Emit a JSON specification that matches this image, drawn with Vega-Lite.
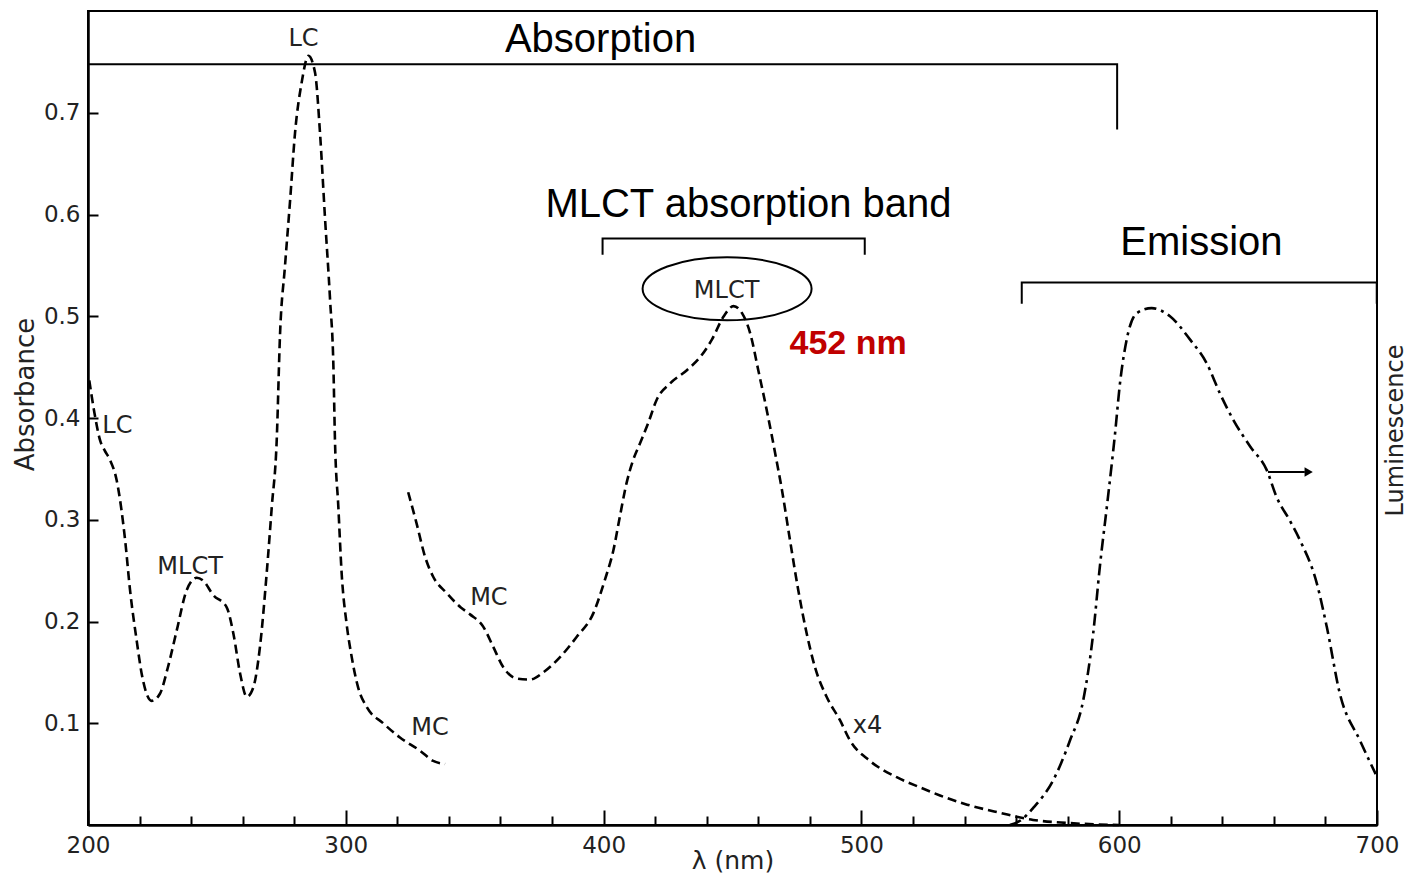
{
  "$schema": "https://vega.github.io/schema/vega-lite/v6.json",
  "width": 1289,
  "height": 814,
  "autosize": "none",
  "padding": {"left": 88, "top": 11, "right": 31, "bottom": 50},
  "background": "white",
  "config": {
    "view": {"stroke": "black", "strokeWidth": 2},
    "font": "DejaVu Sans",
    "axis": {"grid": false, "labelColor": "#222", "titleColor": "#222", "titleFontWeight": "normal", "domainColor": "black", "tickColor": "black"}
  },
  "datasets": {
    "absorption": [
      {"seg": 1, "nm": 200.5, "A": 0.437}, {"seg": 1, "nm": 202.5, "A": 0.405}, {"seg": 1, "nm": 204.7, "A": 0.378},
      {"seg": 1, "nm": 206.5, "A": 0.368}, {"seg": 1, "nm": 208.5, "A": 0.359}, {"seg": 1, "nm": 211.1, "A": 0.339},
      {"seg": 1, "nm": 214.4, "A": 0.28}, {"seg": 1, "nm": 216.3, "A": 0.231}, {"seg": 1, "nm": 218.9, "A": 0.181},
      {"seg": 1, "nm": 220.8, "A": 0.149}, {"seg": 1, "nm": 224.7, "A": 0.122}, {"seg": 1, "nm": 227.9, "A": 0.129},
      {"seg": 1, "nm": 231.0, "A": 0.155}, {"seg": 1, "nm": 234.4, "A": 0.191}, {"seg": 1, "nm": 238.3, "A": 0.231},
      {"seg": 1, "nm": 242.2, "A": 0.243}, {"seg": 1, "nm": 244.7, "A": 0.24}, {"seg": 1, "nm": 248.6, "A": 0.226},
      {"seg": 1, "nm": 253.8, "A": 0.214}, {"seg": 1, "nm": 256.4, "A": 0.188}, {"seg": 1, "nm": 259.0, "A": 0.149},
      {"seg": 1, "nm": 261.6, "A": 0.126}, {"seg": 1, "nm": 264.1, "A": 0.135}, {"seg": 1, "nm": 266.7, "A": 0.175},
      {"seg": 1, "nm": 269.3, "A": 0.247}, {"seg": 1, "nm": 271.3, "A": 0.313}, {"seg": 1, "nm": 273.2, "A": 0.378},
      {"seg": 1, "nm": 274.5, "A": 0.483}, {"seg": 1, "nm": 276.4, "A": 0.549}, {"seg": 1, "nm": 278.4, "A": 0.614},
      {"seg": 1, "nm": 280.3, "A": 0.68}, {"seg": 1, "nm": 282.9, "A": 0.73}, {"seg": 1, "nm": 285.5, "A": 0.756},
      {"seg": 1, "nm": 288.1, "A": 0.739}, {"seg": 1, "nm": 290.0, "A": 0.68}, {"seg": 1, "nm": 291.9, "A": 0.598},
      {"seg": 1, "nm": 293.9, "A": 0.516}, {"seg": 1, "nm": 295.2, "A": 0.45}, {"seg": 1, "nm": 295.8, "A": 0.378},
      {"seg": 1, "nm": 297.1, "A": 0.313}, {"seg": 1, "nm": 298.4, "A": 0.247}, {"seg": 1, "nm": 300.3, "A": 0.198},
      {"seg": 1, "nm": 302.3, "A": 0.165}, {"seg": 1, "nm": 304.8, "A": 0.135}, {"seg": 1, "nm": 308.1, "A": 0.116},
      {"seg": 1, "nm": 314.5, "A": 0.1}, {"seg": 1, "nm": 321.0, "A": 0.086}, {"seg": 1, "nm": 328.8, "A": 0.073},
      {"seg": 1, "nm": 333.9, "A": 0.063}, {"seg": 1, "nm": 338.5, "A": 0.06},
      {"seg": 2, "nm": 324.2, "A": 0.327}, {"seg": 2, "nm": 327.4, "A": 0.297}, {"seg": 2, "nm": 330.7, "A": 0.264},
      {"seg": 2, "nm": 333.9, "A": 0.244}, {"seg": 2, "nm": 339.1, "A": 0.228}, {"seg": 2, "nm": 344.5, "A": 0.214},
      {"seg": 2, "nm": 348.2, "A": 0.207}, {"seg": 2, "nm": 353.3, "A": 0.195}, {"seg": 2, "nm": 357.2, "A": 0.175},
      {"seg": 2, "nm": 361.1, "A": 0.155}, {"seg": 2, "nm": 366.3, "A": 0.144}, {"seg": 2, "nm": 371.5, "A": 0.143},
      {"seg": 2, "nm": 376.6, "A": 0.15}, {"seg": 2, "nm": 383.1, "A": 0.165}, {"seg": 2, "nm": 389.6, "A": 0.185},
      {"seg": 2, "nm": 396.0, "A": 0.208}, {"seg": 2, "nm": 400.5, "A": 0.241}, {"seg": 2, "nm": 403.8, "A": 0.27},
      {"seg": 2, "nm": 406.3, "A": 0.303}, {"seg": 2, "nm": 408.9, "A": 0.336}, {"seg": 2, "nm": 411.5, "A": 0.359},
      {"seg": 2, "nm": 414.1, "A": 0.375}, {"seg": 2, "nm": 417.3, "A": 0.395}, {"seg": 2, "nm": 420.6, "A": 0.418},
      {"seg": 2, "nm": 425.8, "A": 0.434}, {"seg": 2, "nm": 432.3, "A": 0.447}, {"seg": 2, "nm": 437.5, "A": 0.46},
      {"seg": 2, "nm": 442.0, "A": 0.477}, {"seg": 2, "nm": 446.6, "A": 0.5}, {"seg": 2, "nm": 450.4, "A": 0.51},
      {"seg": 2, "nm": 453.7, "A": 0.503}, {"seg": 2, "nm": 456.9, "A": 0.483}, {"seg": 2, "nm": 460.0, "A": 0.447},
      {"seg": 2, "nm": 463.5, "A": 0.405}, {"seg": 2, "nm": 466.8, "A": 0.362}, {"seg": 2, "nm": 469.2, "A": 0.329},
      {"seg": 2, "nm": 472.3, "A": 0.28}, {"seg": 2, "nm": 475.5, "A": 0.231}, {"seg": 2, "nm": 478.8, "A": 0.188},
      {"seg": 2, "nm": 482.0, "A": 0.155}, {"seg": 2, "nm": 486.5, "A": 0.126}, {"seg": 2, "nm": 491.7, "A": 0.103},
      {"seg": 2, "nm": 495.6, "A": 0.083}, {"seg": 2, "nm": 503.3, "A": 0.063}, {"seg": 2, "nm": 513.7, "A": 0.047},
      {"seg": 2, "nm": 522.7, "A": 0.037}, {"seg": 2, "nm": 530.5, "A": 0.029}, {"seg": 2, "nm": 541.0, "A": 0.02},
      {"seg": 2, "nm": 553.8, "A": 0.012}, {"seg": 2, "nm": 566.6, "A": 0.005}, {"seg": 2, "nm": 580.0, "A": 0.002},
      {"seg": 2, "nm": 600.0, "A": 0.0}
    ],
    "emission": [
      {"nm": 557.6, "L": 0.0}, {"nm": 562.0, "L": 0.005}, {"nm": 566.7, "L": 0.017}, {"nm": 574.4, "L": 0.044},
      {"nm": 580.9, "L": 0.083}, {"nm": 586.0, "L": 0.122}, {"nm": 589.9, "L": 0.188}, {"nm": 592.5, "L": 0.254},
      {"nm": 595.5, "L": 0.319}, {"nm": 598.4, "L": 0.385}, {"nm": 600.3, "L": 0.434}, {"nm": 602.9, "L": 0.477},
      {"nm": 606.8, "L": 0.503}, {"nm": 612.6, "L": 0.508}, {"nm": 619.7, "L": 0.5}, {"nm": 627.5, "L": 0.477},
      {"nm": 633.9, "L": 0.454}, {"nm": 639.1, "L": 0.424}, {"nm": 644.3, "L": 0.398}, {"nm": 650.8, "L": 0.372},
      {"nm": 657.2, "L": 0.349}, {"nm": 661.1, "L": 0.322}, {"nm": 666.0, "L": 0.3}, {"nm": 670.1, "L": 0.28},
      {"nm": 676.6, "L": 0.238}, {"nm": 680.5, "L": 0.195}, {"nm": 685.6, "L": 0.129}, {"nm": 693.4, "L": 0.083},
      {"nm": 699.5, "L": 0.05}
    ],
    "brackets": [
      {"id": "absorption", "ord": 1, "nm": 200.0, "A": 0.685}, {"id": "absorption", "ord": 2, "nm": 200.0, "A": 0.7476},
      {"id": "absorption", "ord": 3, "nm": 599.2, "A": 0.7476}, {"id": "absorption", "ord": 4, "nm": 599.2, "A": 0.6835},
      {"id": "band", "ord": 1, "nm": 399.6, "A": 0.5605}, {"id": "band", "ord": 2, "nm": 399.6, "A": 0.5763},
      {"id": "band", "ord": 3, "nm": 501.3, "A": 0.5763}, {"id": "band", "ord": 4, "nm": 501.3, "A": 0.5605},
      {"id": "emission", "ord": 1, "nm": 562.2, "A": 0.5123}, {"id": "emission", "ord": 2, "nm": 562.2, "A": 0.5332},
      {"id": "emission", "ord": 3, "nm": 699.9, "A": 0.5332}, {"id": "emission", "ord": 4, "nm": 699.9, "A": 0.5123}
    ],
    "headings": [
      {"text": "Absorption", "nm": 398.8, "A": 0.76},
      {"text": "MLCT absorption band", "nm": 456.2, "A": 0.598},
      {"text": "Emission", "nm": 631.9, "A": 0.5605}
    ],
    "bandLabels": [
      {"text": "LC", "nm": 283.6, "A": 0.7656},
      {"text": "LC", "nm": 211.4, "A": 0.385},
      {"text": "MLCT", "nm": 239.6, "A": 0.247},
      {"text": "MC", "nm": 355.5, "A": 0.216},
      {"text": "MC", "nm": 332.7, "A": 0.088},
      {"text": "x4", "nm": 502.4, "A": 0.09},
      {"text": "MLCT", "nm": 447.7, "A": 0.518}
    ],
    "peak": [{"text": "452 nm", "nm": 472.1, "A": 0.463}],
    "ellipse": [{"nm": 447.9, "A": 0.527}],
    "arrow": [{"nm": 657.7, "nm2": 672.0, "A": 0.347, "tip": 673.5}]
  },
  "encoding": {
    "x": {
      "field": "nm",
      "type": "quantitative",
      "scale": {"domain": [200, 700], "nice": false, "zero": false},
      "axis": {
        "title": "λ (nm)",
        "values": [200, 220, 240, 260, 280, 300, 320, 340, 360, 380, 400, 420, 440, 460, 480, 500, 520, 540, 560, 580, 600, 620, 640, 660, 680, 700],
        "labelExpr": "datum.value % 100 === 0 ? datum.label : ''",
        "labelFontSize": 23,
        "labelPadding": 24,
        "labelFlush": false,
        "domainWidth": 2.5,
        "tickWidth": 2,
        "tickSize": {"condition": {"test": "datum.value % 100 === 0", "value": -15}, "value": -9},
        "titleFontSize": 25,
        "titleBaseline": "top",
        "titleY": 23
      }
    }
  },
  "layer": [
    {
      "encoding": {
        "y": {
          "field": "A",
          "type": "quantitative",
          "scale": {"domain": [0, 0.8], "nice": false},
          "axis": {
            "title": "Absorbance",
            "values": [0.1, 0.2, 0.3, 0.4, 0.5, 0.6, 0.7],
            "format": ".1f",
            "labelFontSize": 23,
            "labelPadding": 18,
            "domainWidth": 2.5,
            "tickWidth": 2,
            "tickSize": -10,
            "titleFontSize": 26,
            "titleAngle": 270,
            "titleAlign": "center",
            "titleBaseline": "middle",
            "titleX": -63,
            "titleY": 383
          }
        }
      },
      "layer": [
        {
          "data": {"name": "absorption"},
          "mark": {"type": "line", "interpolate": "monotone", "color": "black", "strokeWidth": 2.6, "strokeDash": [9, 5]},
          "encoding": {"detail": {"field": "seg"}, "order": {"field": "nm", "type": "quantitative"}}
        },
        {
          "data": {"name": "brackets"},
          "mark": {"type": "line", "color": "black", "strokeWidth": 2},
          "encoding": {"detail": {"field": "id"}, "order": {"field": "ord", "type": "quantitative"}}
        },
        {
          "data": {"name": "ellipse"},
          "mark": {
            "type": "point",
            "shape": "M -1 0 A 1 0.373 0 1 1 1 0 A 1 0.373 0 1 1 -1 0 Z",
            "size": 28561,
            "filled": false,
            "stroke": "black",
            "strokeWidth": 2,
            "opacity": 1
          }
        },
        {
          "data": {"name": "headings"},
          "mark": {"type": "text", "font": "Liberation Sans", "fontSize": 40, "align": "center", "baseline": "alphabetic", "color": "black"},
          "encoding": {"text": {"field": "text"}}
        },
        {
          "data": {"name": "bandLabels"},
          "mark": {"type": "text", "font": "DejaVu Sans", "fontSize": 24, "align": "center", "baseline": "alphabetic", "color": "#222"},
          "encoding": {"text": {"field": "text"}}
        },
        {
          "data": {"name": "peak"},
          "mark": {"type": "text", "font": "Liberation Sans", "fontSize": 34, "fontWeight": "bold", "align": "left", "baseline": "alphabetic", "color": "#c00000"},
          "encoding": {"text": {"field": "text"}}
        },
        {
          "data": {"name": "arrow"},
          "mark": {"type": "rule", "color": "black", "strokeWidth": 2},
          "encoding": {"x2": {"field": "nm2"}}
        },
        {
          "data": {"name": "arrow"},
          "mark": {"type": "point", "shape": "triangle-right", "size": 90, "filled": true, "color": "black", "opacity": 1},
          "encoding": {"x": {"field": "tip", "type": "quantitative"}}
        }
      ]
    },
    {
      "data": {"name": "emission"},
      "mark": {"type": "line", "interpolate": "monotone", "color": "black", "strokeWidth": 2.6, "strokeDash": [12, 5, 3, 5]},
      "encoding": {
        "y": {
          "field": "L",
          "type": "quantitative",
          "scale": {"domain": [0, 0.8], "nice": false},
          "axis": {
            "orient": "right",
            "title": "Luminescence",
            "labels": false,
            "ticks": false,
            "domain": false,
            "titleFontSize": 24,
            "titleAngle": 270,
            "titleAlign": "center",
            "titleBaseline": "middle",
            "titleX": 18,
            "titleY": 419
          }
        }
      }
    }
  ],
  "resolve": {"scale": {"y": "independent"}}
}
